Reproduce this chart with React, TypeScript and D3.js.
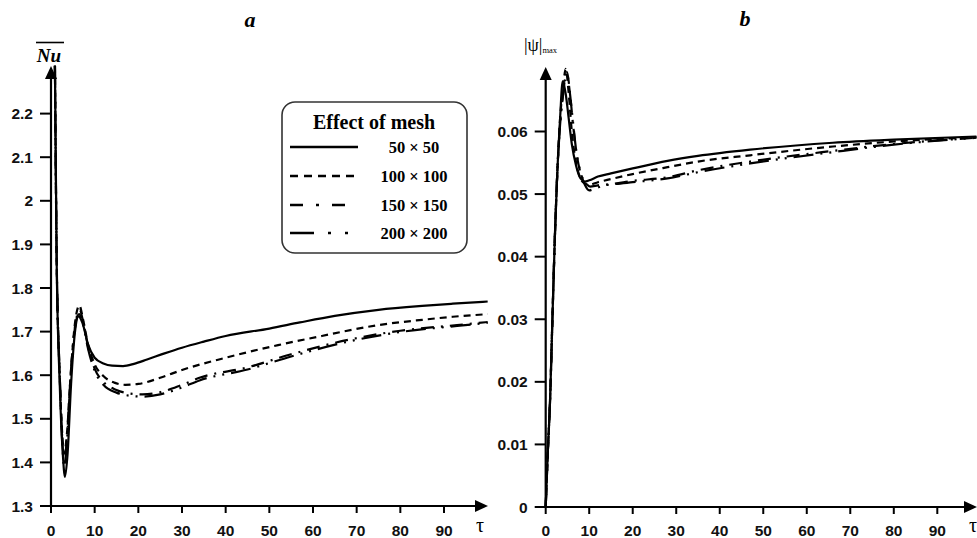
import React from "react";
import * as d3 from "d3";

// ---------- data ----------
const xTicks = [0, 10, 20, 30, 40, 50, 60, 70, 80, 90];
const nuTicks = [1.3, 1.4, 1.5, 1.6, 1.7, 1.8, 1.9, 2, 2.1, 2.2];
const psiTicks = [0, 0.01, 0.02, 0.03, 0.04, 0.05, 0.06];
const meshLabels = ["50 \u00d7 50", "100 \u00d7 100", "150 \u00d7 150", "200 \u00d7 200"];

// Panel a: average Nusselt number
const tauA50 = [0.9, 1.3, 2.0, 2.7, 3.2, 3.8, 4.6, 5.5, 6.3, 7.2, 8.5, 10, 12, 14, 16.5, 19, 22, 26, 30, 35, 40, 50, 57, 65, 75, 85, 92, 100];
const nuA50 = [2.31, 1.86, 1.58, 1.42, 1.367, 1.42, 1.58, 1.7, 1.735, 1.72, 1.67, 1.64, 1.627, 1.622, 1.621, 1.626, 1.636, 1.65, 1.663, 1.677, 1.69, 1.707, 1.721, 1.736, 1.75, 1.759, 1.764, 1.769];
const tauA100 = [0.9, 1.3, 2.0, 2.6, 3.0, 3.6, 4.5, 5.5, 6.5, 7.3, 8.5, 10, 12, 14.5, 17, 20, 25, 30, 40, 52, 62, 75, 85, 92, 100];
const nuA100 = [2.31, 1.87, 1.6, 1.46, 1.42, 1.46, 1.6, 1.72, 1.76, 1.73, 1.67, 1.625, 1.598, 1.583, 1.578, 1.58, 1.594, 1.612, 1.64, 1.669, 1.69, 1.715, 1.727, 1.734, 1.74];
const tauA150 = [0.9, 1.3, 2.0, 2.6, 3.0, 3.6, 4.5, 5.5, 6.6, 7.4, 8.5, 10, 12, 15, 18, 21, 25, 30, 34, 45, 55, 68, 80, 93, 100];
const nuA150 = [2.31, 1.87, 1.6, 1.45, 1.4, 1.45, 1.6, 1.71, 1.75, 1.72, 1.665, 1.615, 1.585, 1.566, 1.558, 1.556, 1.561, 1.578, 1.594, 1.618, 1.648, 1.681, 1.702, 1.715, 1.722];
const tauA200 = [0.9, 1.3, 2.0, 2.6, 3.0, 3.6, 4.5, 5.5, 6.4, 7.4, 8.5, 10, 12, 15, 18, 21, 25, 30, 34, 45, 55, 68, 80, 93, 100];
const nuA200 = [2.31, 1.87, 1.6, 1.44, 1.39, 1.44, 1.6, 1.71, 1.74, 1.715, 1.66, 1.61, 1.578, 1.56, 1.553, 1.551, 1.556, 1.572, 1.588, 1.613, 1.643, 1.677, 1.699, 1.713, 1.72];

// Panel b: maximum stream function
const tauB50 = [0, 0.5, 1, 1.5, 2.1, 2.7, 3.3, 3.9, 4.6, 5.3, 6, 7, 8, 9, 10, 12, 15, 20, 28, 35, 47, 66, 80, 99];
const psiB50 = [0, 0.009, 0.017, 0.029, 0.043, 0.054, 0.062, 0.068, 0.066, 0.062, 0.058, 0.0545, 0.0525, 0.052, 0.0522, 0.0528, 0.0533, 0.0541, 0.0553, 0.0561, 0.0571, 0.0582, 0.0587, 0.0592];
const tauB100 = [0, 0.5, 1, 1.5, 2.1, 2.7, 3.3, 4, 4.6, 5.3, 6, 7, 8, 9, 10, 12, 15, 20, 28, 35, 47, 66, 80, 99];
const psiB100 = [0, 0.009, 0.017, 0.029, 0.043, 0.054, 0.062, 0.067, 0.07, 0.066, 0.06, 0.055, 0.0525, 0.0517, 0.0515, 0.0519, 0.0524, 0.0532, 0.0543, 0.0552, 0.0562, 0.0576, 0.0584, 0.0591];
const tauB150 = [0, 0.5, 1, 1.5, 2.1, 2.7, 3.3, 4, 4.9, 5.6, 6.3, 7.2, 8.2, 9.2, 10.2, 12, 15, 20, 28, 35, 47, 66, 80, 99];
const psiB150 = [0, 0.009, 0.017, 0.029, 0.043, 0.054, 0.061, 0.066, 0.0695, 0.066, 0.061, 0.056, 0.053, 0.0518, 0.0512, 0.0514, 0.0516, 0.0521, 0.0527, 0.0538, 0.0552, 0.0569, 0.058, 0.059];
const tauB200 = [0, 0.5, 1, 1.5, 2.1, 2.7, 3.3, 4, 4.8, 5.5, 6.2, 7, 8, 9, 10, 11, 13, 16, 20, 28, 35, 47, 66, 80, 99];
const psiB200 = [0, 0.009, 0.017, 0.029, 0.043, 0.054, 0.061, 0.066, 0.0695, 0.0665, 0.062, 0.057, 0.0535, 0.0515, 0.0506, 0.0508, 0.0513, 0.0516, 0.0519, 0.0525, 0.0535, 0.0549, 0.0567, 0.0579, 0.059];

// ---------- styles ----------
const dashes = ["", "7 5", "13 7 2 7", "20 7 2 7 2 7"];
const legendDashes = ["", "8 6", "13 13 3 13", "24 14 3 14 3 14"];
const SANS = "'Liberation Sans', Arial, sans-serif";
const SERIF = "'Liberation Serif', 'Times New Roman', serif";

type Series = { t: number[]; v: number[] };

function Axes({ x, y, yTicks, yFmt, xEnd, yTop }: any) {
  const x0 = x(0);
  const yBase = y.range()[0];
  return (
    <g>
      <line x1={x0} x2={xEnd - 10} y1={yBase} y2={yBase} stroke="#000" strokeWidth={2.2} />
      <path d={`M${xEnd},${yBase} L${xEnd - 13},${yBase - 6} L${xEnd - 13},${yBase + 6} Z`} fill="#000" />
      <line x1={x0} x2={x0} y1={yBase} y2={yTop + 10} stroke="#000" strokeWidth={2.2} />
      <path d={`M${x0},${yTop} L${x0 - 6},${yTop + 13} L${x0 + 6},${yTop + 13} Z`} fill="#000" />
      {xTicks.map((t) => (
        <g key={"x" + t}>
          <line x1={x(t)} x2={x(t)} y1={yBase} y2={yBase + 7} stroke="#000" strokeWidth={2} />
          <text x={x(t)} y={536} textAnchor="middle" fontFamily={SANS} fontWeight="bold" fontSize={15.5} fill="#111">
            {t}
          </text>
        </g>
      ))}
      {yTicks.map((t: number) => (
        <g key={"y" + t}>
          <line x1={x0 - 11} x2={x0} y1={y(t)} y2={y(t)} stroke="#000" strokeWidth={2} />
          <text x={x0 - 18} y={y(t) + 5.5} textAnchor="end" fontFamily={SANS} fontWeight="bold" fontSize={15.5} fill="#111">
            {yFmt(t)}
          </text>
        </g>
      ))}
    </g>
  );
}

export default function App() {
  const xA = d3.scaleLinear().domain([0, 90]).range([51, 444]);
  const yA = d3.scaleLinear().domain([1.3, 2.2]).range([506, 113.6]);
  const xB = d3.scaleLinear().domain([0, 90]).range([545.7, 937.3]);
  const yB = d3.scaleLinear().domain([0, 0.06]).range([507, 131.5]);

  const seriesA: Series[] = [
    { t: tauA50, v: nuA50 },
    { t: tauA100, v: nuA100 },
    { t: tauA150, v: nuA150 },
    { t: tauA200, v: nuA200 },
  ];
  const seriesB: Series[] = [
    { t: tauB50, v: psiB50 },
    { t: tauB100, v: psiB100 },
    { t: tauB150, v: psiB150 },
    { t: tauB200, v: psiB200 },
  ];

  const mkLine = (x: any, y: any) =>
    d3
      .line<[number, number]>()
      .x((d) => x(d[0]))
      .y((d) => y(d[1]))
      .curve(d3.curveMonotoneX);

  const lineA = mkLine(xA, yA);
  const lineB = mkLine(xB, yB);
  const pts = (s: Series) => s.t.map((t, i) => [t, s.v[i]] as [number, number]);

  const fmtA = (t: number) => (t === 2 ? "2" : d3.format(".1f")(t));
  const fmtB = (t: number) => (t === 0 ? "0" : d3.format(".2f")(t));

  const legX = 282;
  const legY = 102;
  const rowYs = [147, 176, 205, 233];

  return (
    <svg
      width={977}
      height={538}
      style={{ position: "absolute", left: 0, top: 0, background: "#fff" }}
    >
      <rect width={977} height={538} fill="#fff" />
      {/* titles */}
      <text x={250} y={27} textAnchor="middle" fontFamily={SERIF} fontStyle="italic" fontWeight="bold" fontSize={22}>
        a
      </text>
      <text x={745} y={26} textAnchor="middle" fontFamily={SERIF} fontStyle="italic" fontWeight="bold" fontSize={22}>
        b
      </text>

      {/* panel a */}
      <Axes x={xA} y={yA} yTicks={nuTicks} yFmt={fmtA} xEnd={488} yTop={66} />
      <line x1={36} x2={64} y1={42.5} y2={42.5} stroke="#000" strokeWidth={1.6} />
      <text x={49} y={62} textAnchor="middle" fontFamily={SERIF} fontStyle="italic" fontWeight="bold" fontSize={19}>
        Nu
      </text>
      <text x={480} y={532} textAnchor="middle" fontFamily={SERIF} fontSize={20}>
        τ
      </text>
      {seriesA.map((s, i) => (
        <path key={"a" + i} d={lineA(pts(s)) || ""} fill="none" stroke="#000" strokeWidth={2.2} strokeDasharray={dashes[i]} />
      ))}

      {/* legend */}
      <rect x={legX} y={legY} width={185} height={151} rx={13} ry={13} fill="#fff" stroke="#333" strokeWidth={1.6} />
      <text x={374} y={129} textAnchor="middle" fontFamily={SERIF} fontWeight="bold" fontSize={20}>
        Effect of mesh
      </text>
      {meshLabels.map((lab, i) => (
        <g key={"leg" + i}>
          <line x1={290} x2={358} y1={rowYs[i]} y2={rowYs[i]} stroke="#000" strokeWidth={2.4} strokeDasharray={legendDashes[i]} />
          <text x={414} y={rowYs[i] + 5.5} textAnchor="middle" fontFamily={SERIF} fontWeight="bold" fontSize={16.5}>
            {lab}
          </text>
        </g>
      ))}

      {/* panel b */}
      <Axes x={xB} y={yB} yTicks={psiTicks} yFmt={fmtB} xEnd={977} yTop={67} />
      <text x={524} y={51} fontFamily={SERIF} fontSize={18}>
        |ψ|
        <tspan fontSize={8.5} dy={2}>max</tspan>
      </text>
      <text x={973} y={532} textAnchor="middle" fontFamily={SERIF} fontSize={20}>
        τ
      </text>
      {seriesB.map((s, i) => (
        <path key={"b" + i} d={lineB(pts(s)) || ""} fill="none" stroke="#000" strokeWidth={2.2} strokeDasharray={dashes[i]} />
      ))}
    </svg>
  );
}
